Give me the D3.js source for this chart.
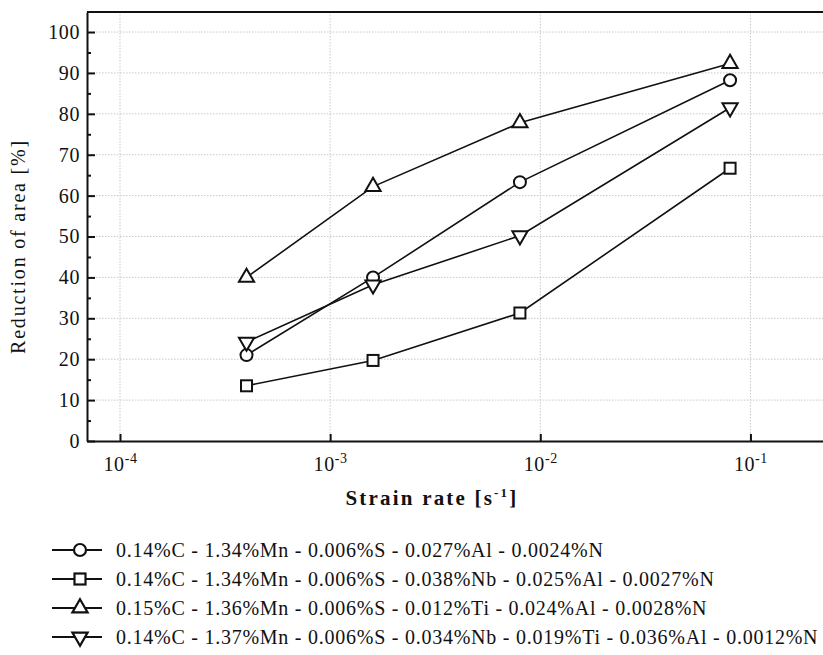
<!DOCTYPE html>
<html>
<head>
<meta charset="utf-8">
<script src="https://cdn.jsdelivr.net/npm/d3@7"></script>
<style>
  html, body { margin: 0; padding: 0; background: #fff; }
  svg { display: block; }
  #chart text, #chart tspan { font-family: 'Liberation Serif', 'Times New Roman', 'DejaVu Serif', serif; }
</style>
</head>
<body>
<svg id="chart" width="823" height="655"></svg>
<script>
// Strain rates tested (s^-1)
const strainRates = [4e-4, 1.6e-3, 8e-3, 8e-2];

// Reduction of area (%) for each steel grade
const raCircle   = [21.0, 40.0, 63.3, 88.2];
const raSquare   = [13.5, 19.7, 31.3, 66.7];
const raUpTri    = [40.0, 62.2, 77.8, 92.3];
const raDownTri  = [24.2, 38.2, 50.2, 81.5];

const seriesLabels = [
  "0.14%C - 1.34%Mn - 0.006%S - 0.027%Al - 0.0024%N",
  "0.14%C - 1.34%Mn - 0.006%S - 0.038%Nb - 0.025%Al - 0.0027%N",
  "0.15%C - 1.36%Mn - 0.006%S - 0.012%Ti - 0.024%Al - 0.0028%N",
  "0.14%C - 1.37%Mn - 0.006%S - 0.034%Nb - 0.019%Ti - 0.036%Al - 0.0012%N"
];
const seriesMarkers = ["circle", "square", "up", "down"];
const seriesValues = [raCircle, raSquare, raUpTri, raDownTri];

const yTicksMajor = [0, 10, 20, 30, 40, 50, 60, 70, 80, 90, 100];
const yTicksMinor = [5, 15, 25, 35, 45, 55, 65, 75, 85, 95];
const xTickExponents = [-4, -3, -2, -1];

const FONT = "'Liberation Serif', 'Times New Roman', 'DejaVu Serif', serif";
const INK = "#111";

const svg = d3.select("#chart");
const plot = { left: 87, right: 845, top: 12, bottom: 441 };

const x = d3.scaleLog()
  .domain([Math.pow(10, -4.157), Math.pow(10, -0.55)])
  .range([plot.left, plot.right]);
const y = d3.scaleLinear()
  .domain([0, 104.9])
  .range([plot.bottom, plot.top]);

// dotted grid at major ticks
const grid = svg.append("g").attr("stroke", "#c8c8c8").attr("stroke-width", 1)
  .attr("stroke-dasharray", "1.5,1.5");
grid.selectAll("line.h").data(yTicksMajor.filter(d => d > 0)).join("line")
  .attr("x1", plot.left).attr("x2", plot.right)
  .attr("y1", d => y(d)).attr("y2", d => y(d));
grid.selectAll("line.v").data(xTickExponents).join("line")
  .attr("x1", d => x(Math.pow(10, d))).attr("x2", d => x(Math.pow(10, d)))
  .attr("y1", plot.top).attr("y2", plot.bottom);

// top frame line
svg.append("line")
  .attr("x1", plot.left).attr("x2", plot.right)
  .attr("y1", plot.top).attr("y2", plot.top)
  .attr("stroke", INK).attr("stroke-width", 2);

// y axis: inward ticks, labels on the left
const yAxis = svg.append("g").attr("transform", `translate(${plot.left},0)`)
  .call(d3.axisLeft(y).tickValues(yTicksMajor).tickSize(-8).tickSizeOuter(0).tickPadding(7));
svg.append("g").attr("transform", `translate(${plot.left},0)`)
  .call(d3.axisLeft(y).tickValues(yTicksMinor).tickSize(-4).tickSizeOuter(0).tickFormat(""))
  .select(".domain").remove();

// x axis: decade ticks with power-of-ten labels
const xAxis = svg.append("g").attr("transform", `translate(0,${plot.bottom})`)
  .call(d3.axisBottom(x).tickValues(xTickExponents.map(e => Math.pow(10, e)))
    .tickSize(-7).tickSizeOuter(0).tickFormat(""));
xAxis.selectAll(".tick").each(function(d) {
  const e = Math.round(Math.log10(d));
  const t = d3.select(this).append("text")
    .attr("y", 30).attr("text-anchor", "middle").attr("fill", INK)
    .attr("font-size", 20).attr("letter-spacing", "0.6px");
  t.append("tspan").text("10");
  t.append("tspan").attr("dy", -8).attr("font-size", 14).text(String(e));
});

svg.selectAll(".domain").attr("stroke", INK).attr("stroke-width", 2);
svg.selectAll(".tick line").attr("stroke", INK).attr("stroke-width", 2);
yAxis.selectAll("text").attr("font-size", 20).attr("letter-spacing", "0.6px").attr("fill", INK);

// axis titles
svg.append("text")
  .attr("transform", `translate(25,${(plot.top + plot.bottom) / 2 + 20}) rotate(-90)`)
  .attr("text-anchor", "middle").attr("font-size", 20).attr("letter-spacing", "1.8px")
  .attr("fill", INK)
  .text("Reduction of area [%]");
const xt = svg.append("text")
  .attr("x", 432).attr("y", 505).attr("text-anchor", "middle").attr("fill", INK)
  .attr("font-size", 21).attr("font-weight", "bold").attr("letter-spacing", "2.2px");
xt.append("tspan").text("Strain rate [s");
xt.append("tspan").attr("dy", -8).attr("font-size", 13).text("-1");
xt.append("tspan").attr("dy", 8).text("]");

// marker generator
function marker(sel, kind) {
  if (kind === "circle") {
    sel.append("circle").attr("r", 6);
  } else if (kind === "square") {
    sel.append("rect").attr("x", -5.5).attr("y", -5.5).attr("width", 11).attr("height", 11);
  } else {
    const p = d3.symbol().type(d3.symbolTriangle).size(100)();
    sel.append("path").attr("d", p)
      .attr("transform", kind === "down" ? "rotate(180)" : null);
  }
}

const line = d3.line().x(d => x(d[0])).y(d => y(d[1]));

const series = svg.append("g");
seriesValues.forEach((vals, i) => {
  const pts = strainRates.map((r, j) => [r, vals[j]]);
  series.append("path").datum(pts).attr("d", line)
    .attr("fill", "none").attr("stroke", INK).attr("stroke-width", 1.6);
  series.selectAll(null).data(pts).join("g")
    .attr("transform", d => `translate(${x(d[0])},${y(d[1])})`)
    .each(function() { marker(d3.select(this), seriesMarkers[i]); })
    .selectAll("*").attr("fill", "#fff").attr("stroke", INK).attr("stroke-width", 2);
});

// legend below the axis
const legend = svg.append("g");
seriesLabels.forEach((lab, i) => {
  const cy = 550 + i * 29;
  const g = legend.append("g").attr("transform", `translate(0,${cy})`);
  g.append("line").attr("x1", 52).attr("x2", 102).attr("y1", 0).attr("y2", 0)
    .attr("stroke", INK).attr("stroke-width", 2);
  const m = g.append("g").attr("transform", "translate(80,0)");
  marker(m, seriesMarkers[i]);
  m.selectAll("*").attr("fill", "#fff").attr("stroke", INK).attr("stroke-width", 2.2);
  g.append("text").attr("x", 116).attr("y", 7).attr("fill", INK)
    .attr("font-size", 20).attr("letter-spacing", "0.75px").text(lab);
});

// every text node carries the serif family directly
svg.selectAll("text, tspan").style("font-family", FONT);
svg.selectAll("g[font-family]").attr("font-family", FONT);
</script>
</body>
</html>
